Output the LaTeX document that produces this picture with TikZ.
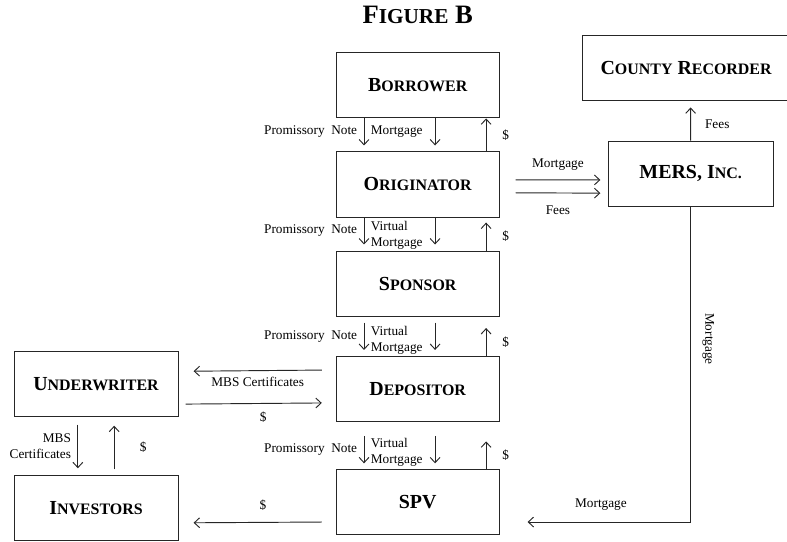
\documentclass[tikz,border=0pt]{standalone}
\usepackage{fontspec}
\setmainfont{Liberation Serif}
\usepackage{tikz}
\usetikzlibrary{arrows.meta}
\newcommand{\smallcap}[2][12]{{\fontsize{#1}{#1}\selectfont #2}}
\tikzstyle{party} = [rectangle, minimum width=4.31cm, minimum height=1.72cm, text centered, draw=black!85, line width=0.7pt, font=\fontsize{15}{18}\selectfont\bfseries]
\tikzstyle{arrow} = [draw=black!85, line width=0.7pt, -{Straight Barb[length=1.4mm,width=2.6mm]}]
\tikzstyle{lbl} = [font=\fontsize{10}{12}\selectfont, inner sep=2pt]

\begin{document}
\begin{tikzpicture}[node distance=2.62cm]
	\clip (0,0) rectangle (20.82,-14.32);
	\node (title) at (11.05,-0.40) {\fontsize{20}{22}\selectfont\bfseries F\smallcap[16]{IGURE} B};
	\node (borrower) [party] at (11.05,-2.26) {B\smallcap{ORROWER}};
	\node (originator) [party, below of=borrower] {O\smallcap{RIGINATOR}};
	\node (sponsor) [party, below of=originator] {S\smallcap{PONSOR}};
	\node (depositor) [party, below of=sponsor, yshift=-0.17cm] {D\smallcap{EPOSITOR}};
	\node (spv) [party, below of=depositor, yshift=-0.38cm] {SPV};
	\node (underwriter) [party, minimum width=4.34cm] at (2.54,-10.15) {U\smallcap{NDERWRITER}};
	\node (investors) [party, minimum width=4.34cm] at (2.54,-13.45) {I\smallcap{NVESTORS}};
	\node (county) [party, minimum width=5.50cm] at (18.15,-1.81) {C\smallcap{OUNTY} R\smallcap{ECORDER}};
	\node (mers) [party, minimum width=4.37cm] at (18.27,-4.59) {MERS, I\smallcap{NC.}};

	% borrower -> originator
	\draw [arrow] ([xshift=-1.42cm]borrower.south) -- node[lbl, left, xshift=-0.1cm] {Promissory\enspace Note} node[lbl, right, xshift=0.1cm] {Mortgage} ([xshift=-1.42cm,yshift=0.16cm]originator.north);
	\draw [arrow] ([xshift=0.46cm]borrower.south) -- ([xshift=0.46cm,yshift=0.16cm]originator.north);
	\draw [arrow] ([xshift=1.81cm]originator.north) -- node[lbl, right, xshift=0.35cm] {\$} ([xshift=1.81cm]borrower.south);

	% originator -> sponsor
	\draw [arrow] ([xshift=-1.42cm]originator.south) -- node[lbl, left, xshift=-0.1cm] {Promissory\enspace Note} node[lbl, right, xshift=0.1cm, yshift=-0.12cm, align=left] {Virtual\\Mortgage} ([xshift=-1.42cm,yshift=0.16cm]sponsor.north);
	\draw [arrow] ([xshift=0.46cm]originator.south) -- ([xshift=0.46cm,yshift=0.16cm]sponsor.north);
	\draw [arrow] ([xshift=1.81cm]sponsor.north) -- node[lbl, right, xshift=0.35cm] {\$} ([xshift=1.81cm,yshift=0.74cm]sponsor.north);

	% sponsor -> depositor
	\draw [arrow] ([xshift=-1.42cm,yshift=-0.16cm]sponsor.south) -- node[lbl, left, xshift=-0.1cm] {Promissory\enspace Note} node[lbl, right, xshift=0.1cm, yshift=-0.1cm, align=left] {Virtual\\Mortgage} ([xshift=-1.42cm,yshift=0.16cm]depositor.north);
	\draw [arrow] ([xshift=0.46cm,yshift=-0.16cm]sponsor.south) -- ([xshift=0.46cm,yshift=0.16cm]depositor.north);
	\draw [arrow] ([xshift=1.81cm]depositor.north) -- node[lbl, right, xshift=0.35cm] {\$} ([xshift=1.81cm,yshift=0.74cm]depositor.north);

	% depositor -> spv
	\draw [arrow] ([xshift=-1.42cm,yshift=-0.37cm]depositor.south) -- node[lbl, left, xshift=-0.1cm] {Promissory\enspace Note} node[lbl, right, xshift=0.1cm, yshift=-0.07cm, align=left] {Virtual\\Mortgage} ([xshift=-1.42cm,yshift=0.16cm]spv.north);
	\draw [arrow] ([xshift=0.46cm,yshift=-0.37cm]depositor.south) -- ([xshift=0.46cm,yshift=0.16cm]spv.north);
	\draw [arrow] ([xshift=1.81cm]spv.north) -- node[lbl, right, xshift=0.35cm] {\$} ([xshift=1.81cm,yshift=0.74cm]spv.north);

	% underwriter and investors
	\draw [arrow] ([xshift=-0.37cm,yshift=0.5cm]depositor.west) -- node[lbl, below, yshift=-0.1cm] {MBS Certificates} ([xshift=0.4cm,yshift=0.33cm]underwriter.east);
	\draw [arrow] ([xshift=0.19cm,yshift=-0.54cm]underwriter.east) -- node[lbl, below, pos=0.57, yshift=-0.15cm] {\$} ([xshift=-0.37cm,yshift=-0.37cm]depositor.west);
	\draw [arrow] ([xshift=-0.48cm,yshift=-0.21cm]underwriter.south) -- node[lbl, left, align=right, xshift=-0.1cm] {MBS\\Certificates} ([xshift=-0.48cm,yshift=0.19cm]investors.north);
	\draw [arrow] ([xshift=0.48cm,yshift=0.16cm]investors.north) -- node[lbl, right, xshift=0.6cm] {\$} ([xshift=0.48cm,yshift=-0.24cm]underwriter.south);
	\draw [arrow] ([xshift=-0.37cm,yshift=-0.52cm]spv.west) -- node[lbl, above, pos=0.46, yshift=0.22cm] {\$} ([xshift=0.4cm,yshift=-0.38cm]investors.east);

	% mers
	\draw [arrow] ([xshift=0.42cm,yshift=0.12cm]originator.east) -- node[lbl, above, yshift=0.18cm] {Mortgage} ([xshift=-0.19cm,yshift=-0.17cm]mers.west);
	\draw [arrow] ([xshift=0.42cm,yshift=-0.22cm]originator.east) -- node[lbl, below, yshift=-0.25cm] {Fees} ([xshift=-0.19cm,yshift=-0.52cm]mers.west);
	\draw [arrow] (mers.north) -- node[lbl, right, xshift=0.3cm] {Fees} ([xshift=0.12cm,yshift=-0.16cm]county.south);
	\draw [arrow] (mers.south) |- node[lbl, pos=0.21, rotate=-90, anchor=south, inner ysep=0.3cm] {Mortgage} node[lbl, pos=0.775, above, yshift=0.22cm] {Mortgage} ([xshift=0.74cm,yshift=-0.52cm]spv.east);
\end{tikzpicture}
\end{document}
